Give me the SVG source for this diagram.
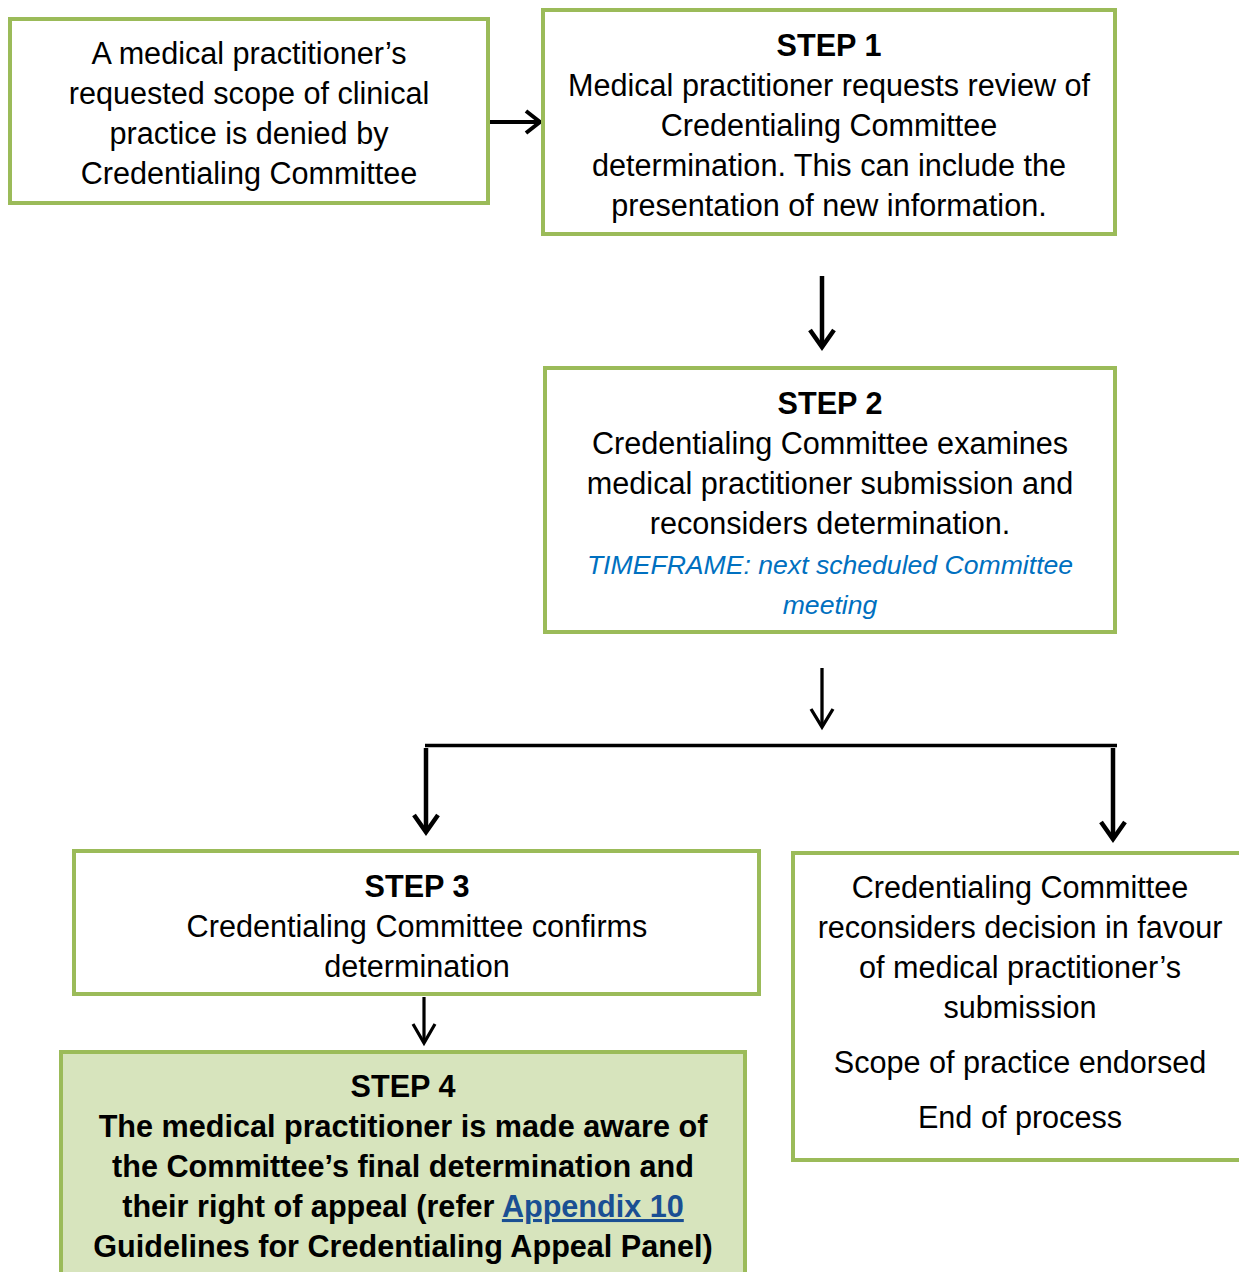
<svg xmlns="http://www.w3.org/2000/svg" width="1239" height="1272" viewBox="0 0 1239 1272">
<style>
.box{fill:#fff;stroke:#9BBB59;stroke-width:4}
.box4{fill:#D7E4BD;stroke:#9BBB59;stroke-width:4}
text{font-family:"Liberation Sans",Arial,sans-serif;font-size:30.6px;fill:#000;text-anchor:middle}
.b{font-weight:bold}
.tf{fill:#0070C0;font-style:italic;font-size:26.6px}
.link{fill:#1A4F93;text-decoration:underline}
.c{fill:none;stroke:#000;stroke-linecap:butt}
</style>
<g id="connectors">
<path class="c" d="M489 122H539" stroke-width="4"/>
<path class="c" d="M526 111L540 122L526 133" stroke-width="4"/>
<path class="c" d="M822 276V346" stroke-width="4.5"/>
<path class="c" d="M810 330L822 347L834 330" stroke-width="4.5"/>
<path class="c" d="M822 668V726" stroke-width="3.3"/>
<path class="c" d="M811 709L822 727L833 709" stroke-width="3.3"/>
<path class="c" d="M425 745.5H1117" stroke-width="3.5"/>
<path class="c" d="M426 748V831" stroke-width="4.5"/>
<path class="c" d="M414 815L426 832L438 815" stroke-width="4.5"/>
<path class="c" d="M1113 748V838" stroke-width="4.5"/>
<path class="c" d="M1101 822L1113 839L1125 822" stroke-width="4.5"/>
<path class="c" d="M424 997V1042" stroke-width="3.2"/>
<path class="c" d="M413 1024L424 1043L435 1024" stroke-width="3.2"/>
</g>
<g id="node-denied">
<rect class="box" x="10" y="19" width="478" height="184"/>
<text x="249" y="64">A medical practitioner’s</text>
<text x="249" y="104">requested scope of clinical</text>
<text x="249" y="144">practice is denied by</text>
<text x="249" y="184">Credentialing Committee</text>
</g>
<g id="node-step1">
<rect class="box" x="543" y="10" width="572" height="224"/>
<text x="829" y="56" class="b">STEP 1</text>
<text x="829" y="96">Medical practitioner requests review of</text>
<text x="829" y="136">Credentialing Committee</text>
<text x="829" y="176">determination. This can include the</text>
<text x="829" y="216">presentation of new information.</text>
</g>
<g id="node-step2">
<rect class="box" x="545" y="368" width="570" height="264"/>
<text x="830" y="414" class="b">STEP 2</text>
<text x="830" y="454">Credentialing Committee examines</text>
<text x="830" y="494">medical practitioner submission and</text>
<text x="830" y="534">reconsiders determination.</text>
<text x="830" y="574" class="tf">TIMEFRAME: next scheduled Committee</text>
<text x="830" y="614" class="tf">meeting</text>
</g>
<g id="node-step3">
<rect class="box" x="74" y="851" width="685" height="143"/>
<text x="417" y="897" class="b">STEP 3</text>
<text x="417" y="937">Credentialing Committee confirms</text>
<text x="417" y="977">determination</text>
</g>
<g id="node-endorsed">
<rect class="box" x="793" y="853" width="460" height="307"/>
<text x="1020" y="898">Credentialing Committee</text>
<text x="1020" y="938">reconsiders decision in favour</text>
<text x="1020" y="978">of medical practitioner’s</text>
<text x="1020" y="1018">submission</text>
<text x="1020" y="1073">Scope of practice endorsed</text>
<text x="1020" y="1128">End of process</text>
</g>
<g id="node-step4">
<rect class="box4" x="61" y="1052" width="684" height="240"/>
<text x="403" y="1097" class="b">STEP 4</text>
<text x="403" y="1137" class="b">The medical practitioner is made aware of</text>
<text x="403" y="1177" class="b">the Committee’s final determination and</text>
<text x="403" y="1217" class="b">their right of appeal (refer <tspan class="link">Appendix 10</tspan></text>
<text x="403" y="1257" class="b">Guidelines for Credentialing Appeal Panel)</text>
</g>
</svg>
